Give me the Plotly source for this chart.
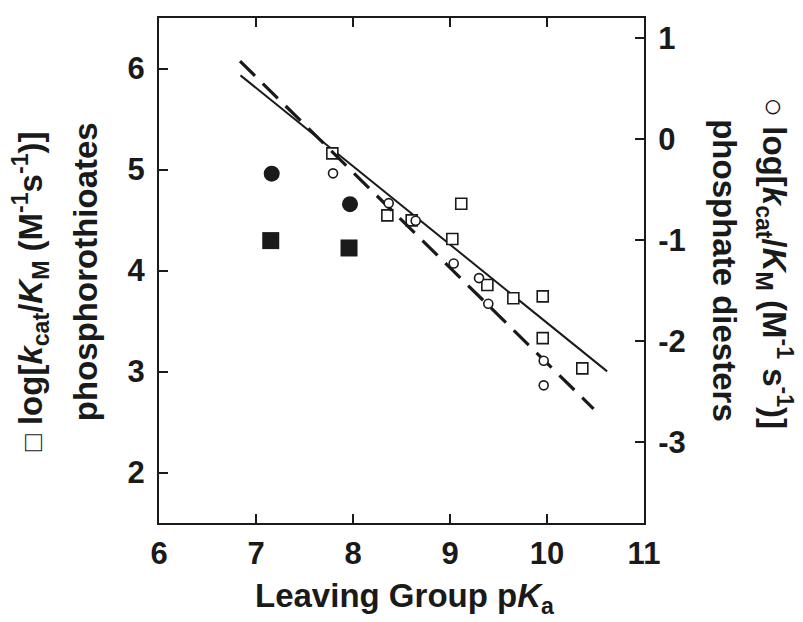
import plotly.graph_objects as go

# ---- data ----
thio_x = [7.787, 8.354, 8.605, 9.116, 9.024, 9.385, 9.653, 9.956, 9.956, 10.364]
thio_y = [5.160, 4.546, 4.496, 4.661, 4.312, 3.856, 3.725, 3.744, 3.330, 3.031]

diester_x = [7.794, 8.368, 8.646, 9.038, 9.299, 9.395, 9.966, 9.966]
diester_y = [-0.338, -0.633, -0.807, -1.231, -1.375, -1.629, -2.193, -2.437]

filled_circ_x = [7.162, 7.969]
filled_circ_y = [4.959, 4.657]
filled_sq_x = [7.152, 7.959]
filled_sq_y = [4.296, 4.223]

fit_thio_x = [6.84, 10.62]
fit_thio_y = [5.932, 3.001]
fit_diester_x = [6.835, 10.48]
fit_diester_y = [0.773, -2.67]

x_ticks = [6, 7, 8, 9, 10, 11]
y_left_ticks = [2, 3, 4, 5, 6]
y_right_ticks = [1, 0, -1, -2, -3]

INK = "#1a1a1a"
FONT = "Liberation Sans, Arial, Helvetica, sans-serif"

fig = go.Figure()

fig.add_trace(go.Scatter(x=fit_thio_x, y=fit_thio_y, mode="lines",
                         line=dict(color=INK, width=2), yaxis="y", showlegend=False))
fig.add_trace(go.Scatter(x=fit_diester_x, y=fit_diester_y, mode="lines",
                         line=dict(color=INK, width=3.2, dash="21px,11px"),
                         yaxis="y2", showlegend=False))
fig.add_trace(go.Scatter(x=thio_x, y=thio_y, mode="markers",
                         marker=dict(symbol="square", size=11, color="white",
                                     line=dict(color=INK, width=1.6)),
                         yaxis="y", showlegend=False))
fig.add_trace(go.Scatter(x=diester_x, y=diester_y, mode="markers",
                         marker=dict(symbol="circle", size=9, color="white",
                                     line=dict(color=INK, width=1.6)),
                         yaxis="y2", showlegend=False))
fig.add_trace(go.Scatter(x=filled_circ_x, y=filled_circ_y, mode="markers",
                         marker=dict(symbol="circle", size=16, color=INK,
                                     line=dict(width=0)),
                         yaxis="y", showlegend=False))
fig.add_trace(go.Scatter(x=filled_sq_x, y=filled_sq_y, mode="markers",
                         marker=dict(symbol="square", size=17, color=INK,
                                     line=dict(width=0)),
                         yaxis="y", showlegend=False))

tickfont = dict(family=FONT, size=31, color=INK, weight="bold")
titlefont = dict(family=FONT, size=33, color=INK, weight="bold")

# the page body has an 8px margin, so the figure is sized to fit inside it
fig.update_layout(
    width=795, height=614,
    margin=dict(l=151, r=159, t=8, b=99),
    paper_bgcolor="white", plot_bgcolor="white",
    xaxis=dict(range=[6, 11], tickvals=x_ticks, ticktext=[str(v) for v in x_ticks],
               ticks="inside", ticklen=9, tickwidth=2, tickcolor=INK,
               showline=True, linewidth=2, linecolor=INK, mirror="ticks",
               showgrid=False, zeroline=False, tickfont=tickfont,
               ticklabelstandoff=2),
    yaxis=dict(range=[1.5, 6.5], tickvals=y_left_ticks, ticktext=[str(v) for v in y_left_ticks],
               ticks="inside", ticklen=9, tickwidth=2, tickcolor=INK,
               showline=True, linewidth=2, linecolor=INK,
               showgrid=False, zeroline=False, tickfont=tickfont,
               ticklabelstandoff=6),
    yaxis2=dict(range=[-3.8, 1.2], overlaying="y", side="right",
                tickvals=y_right_ticks, ticktext=[str(v) for v in y_right_ticks],
                ticks="inside", ticklen=9, tickwidth=2, tickcolor=INK,
                showline=True, linewidth=2, linecolor=INK,
                showgrid=False, zeroline=False, tickfont=tickfont,
                ticklabelstandoff=6),
)

anns = [
    dict(text="Leaving Group p<i>K</i><sub>a</sub>", x=0.507, y=-0.148, textangle=0),
    dict(text="<span style='font-size:28px'>\u25a1</span> log[<i>k</i><sub>cat</sub>/<i>K</i><sub>M</sub> (M<sup>-1</sup>s<sup>-1</sup>)]",
         x=-0.266, y=0.459, textangle=-90),
    dict(text="phosphorothioates", x=-0.1526, y=0.4987, textangle=-90),
    dict(text="\u25cb log[<i>k</i><sub>cat</sub>/<i>K</i><sub>M</sub> (M<sup>-1</sup> s<sup>-1</sup>)]",
         x=1.270, y=0.5145, textangle=90),
    dict(text="phosphate diesters", x=1.167, y=0.4987, textangle=90),
]
for a in anns:
    fig.add_annotation(xref="paper", yref="paper", showarrow=False,
                       xanchor="center", yanchor="middle", font=titlefont, **a)

fig.write_html("out.html")
